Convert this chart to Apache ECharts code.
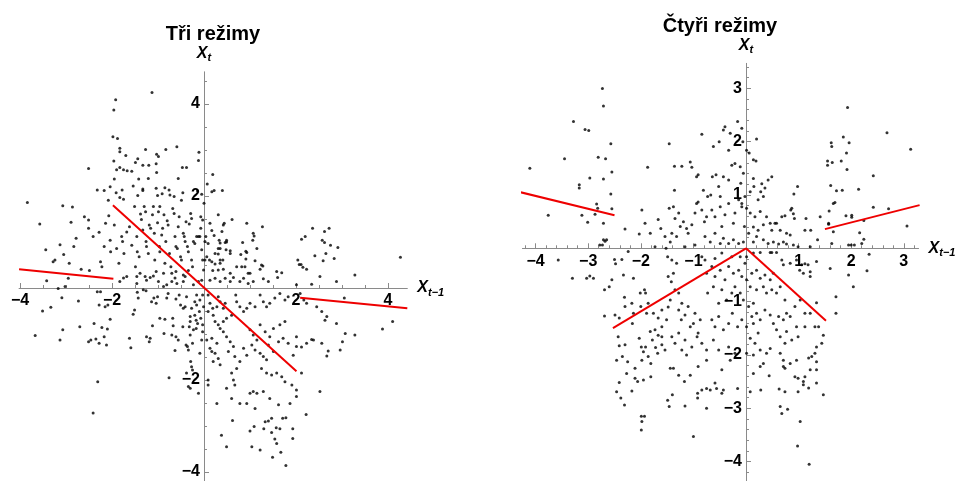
<!DOCTYPE html>
<html>
<head>
<meta charset="utf-8">
<script src="https://cdn.jsdelivr.net/npm/echarts@6.0.0/dist/echarts.min.js"></script>
<style>
  html, body { margin: 0; padding: 0; background: #fff; }
  #chart { width: 955px; height: 481px; }
</style>
</head>
<body>
<div id="chart"></div>
<script>
// Panel titles
const triTitle = 'Tři režimy';
const ctyriTitle = 'Čtyři režimy';

// Scatter of (X_{t-1}, X_t) pairs, three-regime model
const triPoints = [
  [-1.13,4.25],[-1.92,4.09],[-1.96,3.87],[-1.98,3.29],[-1.88,3.25],[-1.83,3.04],[-1.83,2.96],[-1.27,3.01],[-0.83,3.01],[-0.59,3.07],
  [-1.03,2.91],[-0.99,2.86],[-1.70,2.88],[-1.96,2.76],[-1.44,2.81],[-1.49,2.73],[-1.33,2.67],[-1.20,2.67],[-1.83,2.62],[-1.90,2.57],
  [-1.75,2.57],[-1.67,2.55],[-1.57,2.54],[-1.04,2.70],[-1.03,2.51],[-0.11,2.95],[-0.12,2.77],[-0.47,2.62],[-0.38,2.62],[-2.51,2.60],
  [-1.95,2.37],[-1.42,2.37],[-1.21,2.38],[-0.56,2.38],[-1.54,2.22],[-1.33,2.15],[-1.33,2.12],[-1.04,2.17],[-0.85,2.18],[-0.76,2.13],
  [-1.78,2.13],[-2.32,2.13],[-2.17,2.12],[-2.04,2.20],[-1.91,2.07],[-1.44,2.01],[-1.01,2.01],[-0.91,2.05],[-0.74,2.02],[-0.65,1.99],
  [-0.46,2.07],[-0.49,1.91],[-0.14,2.11],[-3.84,1.86],[-3.07,1.79],[-2.86,1.76],[-2.08,1.91],[-1.83,1.97],[-1.75,1.93],
  [-3.57,1.39],[-3.44,0.83],[-3.28,0.57],[-3.24,0.61],[-3.13,0.94],[-3.05,0.73],[-2.93,0.54],[-2.89,1.43],[-2.83,0.90],[-2.78,1.08],
  [-2.67,0.41],[-2.60,1.55],[-2.51,1.48],[-2.51,1.30],[-2.49,0.38],[-2.41,1.12],[-2.28,1.21],[-2.25,0.57],[-2.22,0.46],[-2.17,0.90],
  [-2.14,1.41],[-2.07,1.57],[-2.04,1.04],[-2.03,0.79],[-1.95,1.37],[-1.90,0.86],[-1.85,0.54],[-1.79,1.12],[-1.77,1.01],[-1.74,0.75],
  [-1.68,1.22],[-1.62,1.33],[-1.57,0.93],[-1.51,1.77],[-1.49,0.46],[-1.46,1.12],[-1.45,0.79],[-1.41,0.68],[-1.38,1.61],[-1.36,1.49],
  [-1.33,1.26],[-1.30,1.77],[-1.27,1.66],[-1.26,1.01],[-1.25,0.90],[-1.21,0.75],[-1.19,1.37],[-1.16,1.30],[-1.12,1.59],[-1.10,1.77],
  [-1.08,1.19],[-1.07,0.61],[-1.04,0.36],[-1.01,1.42],[-0.99,1.66],[-0.96,1.77],[-0.97,0.90],[-0.96,0.79],[-0.92,1.15],[-0.90,1.30],
  [-0.87,1.59],[-0.85,0.54],[-0.83,1.01],[-0.80,1.46],[-0.78,1.37],[-0.75,0.75],[-0.72,0.46],[-0.70,0.32],[-0.68,1.73],[-0.65,1.62],
  [-0.63,1.12],[-0.61,0.90],[-0.58,0.86],[-0.56,1.33],[-0.54,1.55],[-0.51,0.68],[-0.49,0.61],[-0.45,1.19],[-0.43,1.12],[-0.41,1.01],
  [-0.39,1.44],[-0.36,0.90],[-0.34,0.79],[-0.32,1.39],[-0.29,1.62],[-0.27,0.61],[-0.25,0.46],[-0.23,1.01],[-0.20,0.97],[-0.16,1.12],
  [-0.12,1.12],[-0.09,1.12],[-0.07,1.30],[-0.05,0.83],[-0.03,0.61],[-0.01,0.39],[-0.27,1.51],[-1.39,0.32],[-1.28,0.25],[-1.10,0.26],
  [-0.88,0.32],[-0.61,0.36],[-0.45,0.28],[-0.34,0.38],
  [0.19,2.47],[0.07,2.26],[0.17,2.09],[0.22,2.12],[0.40,2.12],[-0.05,2.04],[0.00,1.84],[0.31,1.59],[-0.07,1.55],[-0.03,1.48],
  [0.13,1.41],[0.44,1.41],[0.42,1.37],[0.61,1.49],[0.93,1.41],[1.27,1.33],[0.17,1.25],[0.39,1.23],[0.22,1.14],[0.04,1.12],
  [0.33,1.04],[0.35,0.98],[0.49,1.04],[0.49,1.00],[1.07,1.19],[1.09,1.13],[1.06,1.04],[0.84,0.99],[0.46,0.99],[0.02,1.01],
  [0.09,0.97],[0.31,0.86],[0.35,0.86],[0.48,0.83],[0.57,0.81],[1.15,0.86],[0.24,0.75],[0.57,0.75],[0.80,0.73],[0.91,0.80],
  [0.93,0.77],[0.06,0.68],[0.31,0.74],[0.02,0.61],[0.12,0.61],[0.17,0.57],[0.35,0.61],[0.41,0.61],[0.91,0.63],[1.11,0.59],
  [1.25,0.50],[1.28,0.48],[0.24,0.52],[0.35,0.54],[0.71,0.46],[0.82,0.46],[0.89,0.46],[1.22,0.41],[0.19,0.38],[0.31,0.39],
  [0.42,0.41],[0.57,0.32],[0.96,0.32],[1.00,0.32],[1.58,0.36],[1.69,0.33],[2.12,1.06],[2.20,1.12],[2.36,1.30],[2.72,1.30],
  [2.62,1.23],[2.57,1.04],[2.62,0.99],[2.75,0.93],[2.91,0.88],[2.65,0.75],[2.41,0.70],[2.04,0.61],[2.07,0.51],[2.11,0.51],
  [2.59,0.59],[2.83,0.64],[2.15,0.45],[2.23,0.41],[4.27,0.67],[3.28,0.28],
  [-3.42,0.16],[-2.95,0.21],[-3.02,0.03],[-3.17,-0.01],[-1.83,0.14],[-1.75,0.22],[-1.68,0.25],[-1.46,0.25],[-1.46,0.10],[-1.25,0.17],
  [-1.17,0.23],[-0.99,0.14],[-0.88,0.03],[-0.81,0.07],[-0.70,0.14],[-0.63,0.22],[-0.59,0.10],[-0.45,0.14],[-0.41,0.25],[-0.23,0.07],
  [-0.12,0.14],[-0.05,0.17],
  [-3.09,-0.21],[-3.51,-0.50],[-3.33,-0.42],[-3.67,-1.03],[-3.13,-1.13],[-3.07,-0.91],[-2.73,-0.28],[-2.70,-0.84],[-2.51,-1.17],[-2.46,-1.13],
  [-2.39,-0.77],[-2.35,-1.11],[-2.32,-0.08],[-2.25,-0.08],[-2.28,-0.37],[-2.28,-1.20],[-2.12,-1.24],[-2.22,-0.86],[-2.17,-1.06],[-2.15,-0.41],
  [-2.09,-0.37],[-2.10,-0.89],[-2.04,-0.68],[-2.31,-2.04],[-2.41,-2.72],[-1.62,-1.09],[-1.59,-1.30],[-1.54,-0.57],[-1.51,-0.48],[-1.43,-0.22],
  [-1.45,-0.09],[-1.32,-0.04],[-1.26,-0.06],[-1.25,-1.06],[-1.17,-1.09],[-1.19,-1.17],[-1.12,-0.82],[-1.14,-0.30],[-1.09,-0.22],[-1.04,-0.33],
  [-1.01,-0.19],[-0.96,-0.66],[-0.85,-0.68],[-0.81,-0.22],[-0.78,-0.12],[-0.87,-0.99],[-0.76,-1.95],[-0.70,-1.02],[-0.68,-0.66],[-0.67,-0.82],
  [-0.63,-1.36],[-0.61,-1.06],[-0.56,-1.13],[-0.61,-0.24],[-0.54,-0.15],[-0.51,-0.37],[-0.46,-0.84],[-0.41,-0.41],[-0.39,-1.24],[-0.36,-1.27],
  [-0.34,-1.35],[-0.30,-0.73],[-0.30,-0.62],[-0.27,-0.44],[-0.32,-0.84],[-0.29,-1.60],[-0.27,-1.71],[-0.25,-1.78],[-0.25,-1.20],[-0.38,-1.85],
  [-0.34,-2.14],[-0.30,-2.18],[-0.12,-2.29],[-0.20,-0.30],[-0.16,-0.15],[-0.16,-0.37],[-0.20,-0.59],[-0.17,-0.70],[-0.14,-0.77],[-0.17,-0.88],
  [-0.10,-0.51],[-0.09,-0.26],[-0.07,-0.66],[-0.09,-1.42],[-0.05,-1.13],[-0.03,-0.95],[-0.03,-0.80],[-0.03,-0.15],[-0.01,-0.41],[-0.30,-1.02],
  [-0.23,-0.91],[-0.45,-0.44],[-0.38,-0.19],
  [0.13,0.17],[0.24,0.21],[0.35,0.14],[0.46,0.21],[0.57,0.14],[0.64,0.23],[0.78,0.14],[0.86,0.21],[0.96,0.10],[1.07,0.14],
  [1.29,0.20],[1.40,0.14],[1.60,0.23],[2.01,0.07],[2.34,0.08],[2.52,0.25],[2.88,0.14],
  [0.09,-0.15],[0.13,-0.33],[0.19,-0.44],[0.09,-0.51],[0.20,-0.59],[0.28,-0.41],[0.31,-0.19],[0.35,-0.30],[0.42,-0.44],[0.46,-0.33],
  [0.24,-0.73],[0.31,-0.80],[0.42,-0.73],[0.35,-0.88],[0.49,-0.66],[0.60,-0.59],[0.69,-0.15],[0.71,-0.30],[0.78,-0.41],[0.86,-0.51],
  [0.93,-0.44],[1.00,-0.33],[1.11,-0.41],[1.22,-0.15],[1.29,-0.30],[1.36,-0.41],[1.43,-0.33],[1.54,-0.22],[1.65,-0.12],[1.76,-0.26],
  [1.83,-0.19],[2.09,-0.12],[2.17,-0.26],[2.23,-0.33],[2.45,-0.41],[2.56,-0.51],[2.63,-0.70],[2.67,-0.62],[2.88,-0.77],[3.05,-0.22],
  [3.28,-1.02],[3.07,-0.99],[3.88,-0.89],[4.10,-0.73],[2.38,-1.13],[2.56,-1.20],[2.70,-1.37],[2.67,-1.48],[2.96,-1.35],[3.01,-1.17],
  [2.23,-1.20],[2.12,-1.28],[2.34,-1.12],
  [0.06,-1.13],[0.17,-1.09],[0.28,-1.20],[0.13,-1.31],[0.24,-1.42],[0.31,-1.53],[0.20,-1.60],[0.35,-1.67],[0.17,-1.38],
  [0.42,-0.95],[0.49,-1.06],[0.57,-1.17],[0.64,-1.27],[0.53,-1.38],[0.67,-1.49],[0.78,-1.60],[0.71,-1.75],[0.60,-1.85],[0.86,-1.31],
  [0.93,-1.46],[1.00,-0.91],[1.07,-1.02],[1.15,-1.13],[1.04,-1.24],[1.11,-1.35],[1.22,-1.42],[1.29,-1.49],[1.36,-1.56],
  [1.22,-0.80],[1.33,-0.95],[1.43,-1.06],[1.51,-0.88],[1.65,-0.80],[1.76,-0.73],[1.40,-1.24],[1.51,-1.38],[1.62,-1.17],[1.72,-1.09],
  [1.83,-1.20],[2.01,-1.06],[2.01,-1.27],[1.94,-1.46],
  [1.25,-1.75],[1.36,-1.85],[1.47,-1.89],[1.58,-1.85],[1.69,-1.93],[1.76,-2.04],[1.91,-2.11],[2.01,-2.22],[2.01,-2.36],[1.87,-2.51],
  [1.62,-2.54],[1.43,-2.40],[2.12,-1.85],[2.52,-2.25],
  [1.00,-2.29],[1.07,-2.25],[1.15,-2.29],[1.29,-2.25],[0.93,-2.51],[0.78,-2.51],[1.11,-2.62],
  [0.09,-2.11],[0.28,-2.51],[0.49,-2.18],[0.64,-2.00],[0.67,-2.11],[0.60,-2.40],[0.62,-2.88],[0.38,-3.20],[0.49,-3.45],
  [1.00,-3.11],[1.09,-3.01],[1.04,-3.45],[1.22,-3.52],[1.33,-2.91],[1.40,-2.89],[1.30,-3.06],[1.47,-2.83],[1.47,-3.14],[1.57,-3.04],
  [1.65,-3.06],[1.71,-2.83],[1.78,-2.82],[1.54,-3.28],[1.58,-3.38],[1.93,-3.06],[1.93,-3.27],[2.22,-2.75],[1.67,-3.57],[1.49,-3.68],
  [1.78,-3.86],[0.09,-2.00]
];

// Scatter of (X_{t-1}, X_t) pairs, four-regime model
const ctyriPoints = [
  [-2.73,3.00],[-2.71,2.67],[-3.28,2.38],[-3.06,2.23],[-2.99,2.21],[-2.57,1.96],[-3.45,1.68],[-2.81,1.71],[-2.67,1.68],[-4.11,1.50],
  [-2.55,1.43],[-2.97,1.32],[-2.71,1.30],[-3.17,1.19],[-3.17,1.13],[-2.57,1.02],[-2.84,0.83],[-2.82,0.75],[-3.76,0.62],[-3.12,0.62],
  [-2.87,0.64],[-2.55,0.74],[-3.01,0.49],[-2.71,0.47],[-2.30,0.36],[-2.71,0.16],[-2.68,0.13],[-2.65,0.16],[-2.78,0.06],[-2.73,0.06],
  [-2.03,0.27],[-3.57,-0.22],[-3.30,-0.56],[-3.03,-0.56],[-2.97,-0.52],[-2.90,-0.56],[-2.69,-0.78],[-2.60,-0.72],[-2.55,-0.59],[-2.50,-0.21],
  [-2.48,-0.29],[-2.36,-0.21],[-2.33,-0.50],[-2.24,-0.06],[-2.14,-0.56],[-2.69,-1.27],[-2.49,-1.25],[-2.41,-1.31],[-2.31,-0.92],[-2.30,-1.09],
  [-2.17,-1.03],[-2.14,-1.22],[-2.16,-1.41],[-2.01,-0.84],[-1.93,-0.78],[-1.91,-0.84],[-2.00,-1.09],[-1.89,-1.22],[-1.86,-1.03],[-2.43,-1.66],
  [-2.41,-1.83],[-2.30,-1.81],[-2.46,-2.10],[-2.35,-2.03],[-2.25,-2.13],[-2.46,-2.69],[-2.41,-2.52],[-2.38,-2.81],[-2.31,-2.94],[-2.17,-2.68],
  [-2.27,-2.35],[-2.11,-2.25],[-2.11,-2.44],[-2.06,-2.50],[-2.03,-1.69],[-1.99,-1.85],[-1.95,-1.94],[-1.91,-1.85],[-1.98,-2.10],[-1.95,-2.47],
  [-1.86,-2.03],[-1.81,-2.41],[-1.81,-2.16],[-1.99,-3.15],[-1.93,-3.15],[-1.98,-3.25],[-1.99,-3.41],[-1.82,-1.56],[-1.78,-1.72],[-1.73,-1.53],
  [-1.67,-1.63],[-1.60,-1.47],[-1.60,-1.66],[-1.72,-1.86],[-1.68,-1.97],[-1.60,-1.81],[-1.54,-1.91],[-1.76,-1.22],[-1.67,-1.31],[-1.60,-1.16],
  [-1.51,-1.34],[-1.48,-1.10],[-1.44,-0.97],[-1.48,-0.53],[-1.42,-0.63],[-1.38,-0.47],[-1.35,-0.78],[-1.32,-0.28],[-1.28,-0.84],[-1.49,-0.16],
  [-1.41,-0.22],[-1.28,-1.16],[-1.22,-1.03],[-1.23,-1.34],[-1.16,-1.25],[-1.10,-1.09],[-1.06,-1.47],[-1.00,-1.41],[-0.97,-1.22],[-0.91,-1.59],
  [-0.87,-1.34],[-1.41,-1.66],[-1.35,-1.78],[-1.28,-1.59],[-1.22,-1.91],[-1.16,-1.72],[-1.13,-2.00],[-1.03,-1.85],[-0.93,-1.66],[-0.84,-1.78],
  [-0.75,-1.91],[-1.44,-2.25],[-1.38,-2.25],[-1.28,-2.38],[-1.17,-2.50],[-1.06,-2.38],[-0.91,-2.22],[-0.75,-2.10],[-1.49,-2.85],[-1.46,-2.97],
  [-1.40,-2.75],[-1.16,-2.96],[-0.92,-2.72],[-0.92,-2.81],[-0.84,-2.66],[-0.75,-2.63],[-0.68,-2.66],[-0.59,-2.53],[-0.56,-2.63],[-1.00,-3.53],
  [-0.75,-3.00],[-0.46,-2.72],[-0.43,-2.66],[-0.16,-2.63],[-0.46,-2.28],[-0.30,-2.10],[-0.21,-1.97],[-0.33,-1.85],[-0.52,-1.91],[-0.62,-1.72],
  [-0.65,-1.34],[-0.59,-1.47],[-0.52,-1.28],[-0.43,-1.53],[-0.33,-1.41],[-0.26,-1.22],[-0.16,-1.47],[-0.08,-1.34],[-0.73,-0.84],[-0.62,-0.72],
  [-0.52,-1.03],[-0.46,-0.78],[-0.37,-0.97],[-0.27,-0.84],[-0.21,-0.72],[-0.11,-0.84],[-0.05,-0.97],[-0.75,-0.47],[-0.65,-0.34],[-0.59,-0.53],
  [-0.49,-0.41],[-0.40,-0.59],[-0.33,-0.34],[-0.24,-0.47],[-0.14,-0.41],[-0.08,-0.53],[-0.02,-0.28],[-0.84,-0.16],[-0.78,-0.22],[-0.59,-0.19],
  [-0.46,-0.09],[-0.27,-0.16],[-0.11,-0.16],
  [-1.87,1.52],[-1.46,1.96],[-1.36,1.54],[-1.22,1.54],[-1.06,1.62],[-1.03,1.52],[-1.36,1.09],[-1.92,0.47],[-1.98,0.72],[-1.67,0.54],
  [-1.62,0.37],[-1.82,0.28],[-1.46,0.75],[-1.38,0.78],[-1.35,0.56],[-1.28,0.66],[-1.25,0.41],[-1.54,0.22],[-1.44,0.12],[-1.41,0.28],
  [-1.32,0.22],[-1.19,0.50],[-1.13,0.37],[-1.10,0.28],[-1.03,0.44],[-0.97,0.66],[-0.94,0.84],[-0.91,0.87],[-0.84,0.72],[-0.79,0.50],
  [-0.75,0.59],[-0.94,1.34],[-0.91,1.38],[-0.81,1.09],[-0.73,0.97],[-0.67,1.00],[-0.64,1.34],[-0.57,1.38],[-0.52,1.16],[-0.49,0.97],
  [-0.43,1.34],[-0.33,1.28],[-0.84,2.14],[-0.62,1.91],[-0.51,2.00],[-0.43,2.22],[-0.40,2.28],[-0.30,2.16],[-0.16,2.38],[-0.33,1.84],
  [-0.21,1.59],[-0.27,1.56],[-0.11,1.53],[-0.65,0.72],[-0.59,0.59],[-0.49,0.78],[-0.46,0.41],[-0.40,0.63],[-0.33,0.84],[-0.24,0.47],
  [-0.21,0.66],[-0.14,0.91],[-0.08,0.78],[-0.03,0.41],[-0.78,0.22],[-0.68,0.12],[-0.59,0.28],[-0.49,0.09],[-0.43,0.19],[-0.33,0.09],
  [-0.24,0.16],[-0.14,0.09],[-0.05,0.12],[-1.16,0.03],[-0.97,0.06],[-1.52,0.00],[-1.73,0.03],
  [1.93,2.64],[2.68,2.17],[3.13,1.86],[1.85,2.09],[1.62,1.98],[1.63,1.91],[1.96,1.98],[1.91,1.79],[1.55,1.64],[1.55,1.56],
  [1.64,1.61],[1.81,1.64],[1.92,1.48],[2.42,1.36],[1.61,1.18],[1.72,1.08],[1.83,1.09],[2.14,1.11],[1.69,0.86],[1.66,0.84],
  [2.42,0.77],[2.71,0.74],[1.58,0.70],[1.90,0.61],[2.01,0.62],[2.01,0.58],[1.57,0.47],[1.57,0.45],[2.24,0.52],[1.66,0.31],
  [2.16,0.29],[3.06,0.42],[2.24,0.17],[2.20,0.09],[1.63,0.09],[1.95,0.06],[2.00,0.06],[2.06,0.06],[2.34,-0.11],[1.60,-0.38],
  [1.95,-0.50],[2.04,-0.72],[2.30,-0.42],[1.71,-0.91],[1.71,-1.22],
  [1.41,0.59],[1.36,0.16],[1.14,0.56],[1.12,0.34],[1.23,0.34],[0.98,1.16],[0.91,1.02],[0.87,0.75],[0.90,0.65],[0.85,0.72],
  [0.92,0.56],[0.68,0.59],[0.74,0.61],[0.58,0.47],[0.65,0.34],[0.77,0.28],[0.84,0.25],[0.49,0.34],[0.55,0.47],[0.49,1.34],
  [0.42,1.28],[0.30,1.21],[0.36,1.13],[0.28,1.06],[0.33,0.97],[0.23,0.91],[0.14,1.66],[0.19,1.64],[0.20,2.05],[0.06,1.79],
  [0.01,1.84],[0.14,1.31],[0.15,1.16],[0.08,1.06],[-0.08,2.25],[-0.06,2.00],[-0.05,1.41],[-0.10,1.22],[-0.02,0.97],[-0.08,0.84],
  [0.01,0.75],[0.08,0.66],[0.17,0.59],[0.27,0.69],[0.39,0.59],[0.46,0.47],[0.33,0.44],[0.14,0.40],[0.23,0.34],[0.05,0.28],
  [0.20,0.22],[0.33,0.16],[0.42,0.09],[0.14,0.12],[0.52,0.12],[0.62,0.08],[0.71,0.12],[0.77,0.08],[0.90,0.06],[0.99,0.03],
  [1.22,0.03],
  [0.01,-0.16],[0.14,-0.09],[0.27,-0.08],[0.46,-0.08],[0.49,-0.08],[0.58,-0.08],[0.68,-0.22],[0.71,-0.31],[0.84,-0.28],[0.96,-0.22],
  [1.06,-0.31],[1.12,-0.29],[1.18,-0.31],[1.34,-0.25],[1.02,-0.41],[1.09,-0.47],[1.22,-0.44],[1.22,-0.53],
  [0.01,-0.59],[0.11,-0.47],[0.20,-0.41],[0.27,-0.56],[0.36,-0.50],[0.46,-0.59],[0.52,-0.47],[0.08,-0.72],[0.20,-0.78],[0.33,-0.72],
  [0.39,-0.84],[0.49,-0.78],[0.58,-0.84],[0.65,-0.72],
  [0.05,-1.09],[0.14,-1.03],[0.20,-1.22],[0.11,-1.28],[0.27,-1.34],[0.36,-1.16],[0.46,-1.25],[0.52,-1.41],[0.62,-1.28],[0.71,-1.34],
  [0.77,-1.22],[0.84,-1.28],[0.93,-1.09],[1.03,-0.97],[1.12,-1.22],[1.22,-1.22],[1.34,-1.02],[0.74,-0.97],
  [0.01,-1.47],[0.14,-1.41],[0.23,-1.59],[0.17,-1.78],[0.08,-1.69],[0.01,-1.97],[0.14,-2.00],[0.27,-1.91],[0.39,-1.97],[0.46,-1.88],
  [0.58,-1.53],[0.65,-1.66],[0.77,-1.56],[0.74,-1.78],[0.87,-1.72],[0.96,-1.47],[0.99,-1.66],[1.12,-1.47],[1.31,-1.47],[1.38,-1.47],
  [1.47,-1.63],[1.44,-1.78],
  [1.34,-1.85],[1.31,-1.97],[1.25,-2.03],[1.19,-2.06],[1.34,-2.13],[1.34,-2.28],[1.22,-2.28],[1.12,-2.41],[1.09,-2.50],[1.09,-2.56],
  [0.99,-2.44],[0.96,-2.10],[0.84,-2.16],[0.71,-2.10],[0.71,-2.22],[0.65,-1.97],[0.74,-2.25],[0.93,-2.41],[0.99,-2.69],[1.19,-2.62],
  [1.34,-2.53],[1.47,-2.75],
  [0.27,-2.22],[0.33,-2.16],[0.14,-2.35],[0.44,-2.39],[0.28,-2.66],[0.08,-2.69],[0.63,-2.64],[0.74,-2.69],[0.65,-2.97],[0.68,-3.10],
  [0.79,-3.02],[1.03,-3.25],[0.98,-3.71],[1.20,-4.05]
];

// Fitted regime segments (start and end point of each)
const triLines = [
  [[-4.02, 0.41], [-1.97, 0.20]],
  [[-1.98, 1.80], [2.01, -1.81]],
  [[2.09, -0.21], [4.42, -0.44]]
];
const ctyriLines = [
  [[-4.28, 1.05], [-2.50, 0.62]],
  [[-2.53, -1.50], [0, 0]],
  [[0, 0], [1.52, -1.36]],
  [[1.50, 0.36], [3.30, 0.81]]
];

// Axis ranges
const triRangeX = [-4.02, 4.42];
const triRangeY = [-4.3, 4.70];
const ctyriRangeX = [-4.25, 3.28];
const ctyriRangeY = [-4.45, 3.47];

// Tick positions and labelled values
const triMajorX = [-4, -2, 2, 4];
const triMajorY = [-4, -2, 2, 4];
const triMinorX = [-4, -3.5, -3, -2.5, -2, -1.5, -1, -0.5, 0.5, 1, 1.5, 2, 2.5, 3, 3.5, 4];
const triMinorY = [-4, -3.5, -3, -2.5, -2, -1.5, -1, -0.5, 0.5, 1, 1.5, 2, 2.5, 3, 3.5, 4, 4.5];
const ctyriMajorX = [-4, -3, -2, -1, 1, 2, 3];
const ctyriMajorY = [-4, -3, -2, -1, 1, 2, 3];
const ctyriMinorX = [-4.2, -4, -3.8, -3.6, -3.4, -3.2, -3, -2.8, -2.6, -2.4, -2.2, -2, -1.8, -1.6, -1.4, -1.2, -1, -0.8, -0.6, -0.4, -0.2,
  0.2, 0.4, 0.6, 0.8, 1, 1.2, 1.4, 1.6, 1.8, 2, 2.2, 2.4, 2.6, 2.8, 3, 3.2];
const ctyriMinorY = [-4.4, -4.2, -4, -3.8, -3.6, -3.4, -3.2, -3, -2.8, -2.6, -2.4, -2.2, -2, -1.8, -1.6, -1.4, -1.2, -1, -0.8, -0.6, -0.4, -0.2,
  0.2, 0.4, 0.6, 0.8, 1, 1.2, 1.4, 1.6, 1.8, 2, 2.2, 2.4, 2.6, 2.8, 3, 3.2, 3.4];

const FONT = "'Liberation Sans', Arial, Helvetica, sans-serif";
const AXIS_GRAY = '#8a8a8a';
const minusSign = v => String(v).replace('-', '\u2212');

const nameRich = {
  x: { fontFamily: FONT, fontWeight: 'bold', fontStyle: 'italic', fontSize: 16, lineHeight: 20, color: '#000' },
  s: { fontFamily: FONT, fontWeight: 'bold', fontStyle: 'italic', fontSize: 11, lineHeight: 13, verticalAlign: 'bottom', color: '#000' }
};

const gridTri = { left: 19.08, top: 71.8, width: 388.24, height: 414, outerBoundsMode: 'none', containLabel: false };
const gridCtyri = { left: 522.45, top: 63.35, width: 396.1, height: 422.1, outerBoundsMode: 'none', containLabel: false };

// Shift an axis from the grid edge onto the other axis' zero (axes cross at the origin)
function crossOffset(dim, grid, xr, yr) {
  if (dim === 'x') {
    // distance from the bottom edge up to y = 0
    return -((0 - yr[0]) / (yr[1] - yr[0])) * grid.height;
  }
  // distance from the left edge across to x = 0
  return -((0 - xr[0]) / (xr[1] - xr[0])) * grid.width;
}

// One axis: either the labelled axis with short ticks, or an overlay carrying only the longer major ticks
function makeAxis(dim, gridIndex, grid, xr, yr, ticks, labels, tickLen, withLine, name) {
  const range = dim === 'x' ? xr : yr;
  const ax = {
    type: 'value',
    gridIndex: gridIndex,
    position: dim === 'x' ? 'bottom' : 'left',
    offset: crossOffset(dim, grid, xr, yr),
    min: range[0],
    max: range[1],
    splitLine: { show: false },
    axisLine: { show: true, onZero: false, lineStyle: { color: AXIS_GRAY, width: 1, opacity: withLine ? 1 : 0 } },
    axisTick: { show: true, inside: true, length: tickLen, customValues: ticks, lineStyle: { color: AXIS_GRAY, width: 1 } },
    axisLabel: labels ? {
      show: true,
      customValues: labels,
      formatter: minusSign,
      fontFamily: FONT, fontWeight: 'bold', fontSize: 16, color: '#000',
      margin: dim === 'x' ? 5 : 4
    } : { show: false },
    silent: true
  };
  if (name) {
    ax.name = name;
    ax.nameLocation = 'end';
    ax.nameGap = dim === 'x' ? 10 : 8;
    ax.nameTextStyle = { rich: nameRich };
  }
  return ax;
}

const xNameRich = '{x|X}{s|t\u22121}';
const yNameRich = '{x|X}{s|t}';

const option = {
  backgroundColor: '#fff',
  animation: false,
  title: [
    { text: triTitle, left: 213, top: 24, textAlign: 'center', padding: 0,
      textStyle: { fontFamily: FONT, fontWeight: 'bold', fontSize: 20, color: '#000' } },
    { text: ctyriTitle, left: 720, top: 16, textAlign: 'center', padding: 0,
      textStyle: { fontFamily: FONT, fontWeight: 'bold', fontSize: 20, color: '#000' } }
  ],
  grid: [gridTri, Object.assign({}, gridTri), gridCtyri, Object.assign({}, gridCtyri)],
  xAxis: [
    makeAxis('x', 0, gridTri, triRangeX, triRangeY, triMinorX, triMajorX, 3, true, xNameRich),
    makeAxis('x', 1, gridTri, triRangeX, triRangeY, triMajorX, null, 5, false, null),
    makeAxis('x', 2, gridCtyri, ctyriRangeX, ctyriRangeY, ctyriMinorX, ctyriMajorX, 3, true, xNameRich),
    makeAxis('x', 3, gridCtyri, ctyriRangeX, ctyriRangeY, ctyriMajorX, null, 5, false, null)
  ],
  yAxis: [
    makeAxis('y', 0, gridTri, triRangeX, triRangeY, triMinorY, triMajorY, 3, true, yNameRich),
    makeAxis('y', 1, gridTri, triRangeX, triRangeY, triMajorY, null, 5, false, null),
    makeAxis('y', 2, gridCtyri, ctyriRangeX, ctyriRangeY, ctyriMinorY, ctyriMajorY, 3, true, yNameRich),
    makeAxis('y', 3, gridCtyri, ctyriRangeX, ctyriRangeY, ctyriMajorY, null, 5, false, null)
  ],
  series: []
};

function addPanel(points, lines, axisIndex) {
  option.series.push({
    type: 'scatter',
    xAxisIndex: axisIndex, yAxisIndex: axisIndex,
    data: points,
    symbol: 'circle',
    symbolSize: 3,
    itemStyle: { color: '#000' },
    silent: true,
    z: 3
  });
  lines.forEach(seg => {
    option.series.push({
      type: 'line',
      xAxisIndex: axisIndex, yAxisIndex: axisIndex,
      data: seg,
      showSymbol: false,
      symbol: 'none',
      lineStyle: { color: '#ee0000', width: 2 },
      silent: true,
      z: 4
    });
  });
}
addPanel(triPoints, triLines, 0);
addPanel(ctyriPoints, ctyriLines, 2);

const chart = echarts.init(document.getElementById('chart'), null, { renderer: 'canvas' });
chart.setOption(option);
</script>
</body>
</html>
